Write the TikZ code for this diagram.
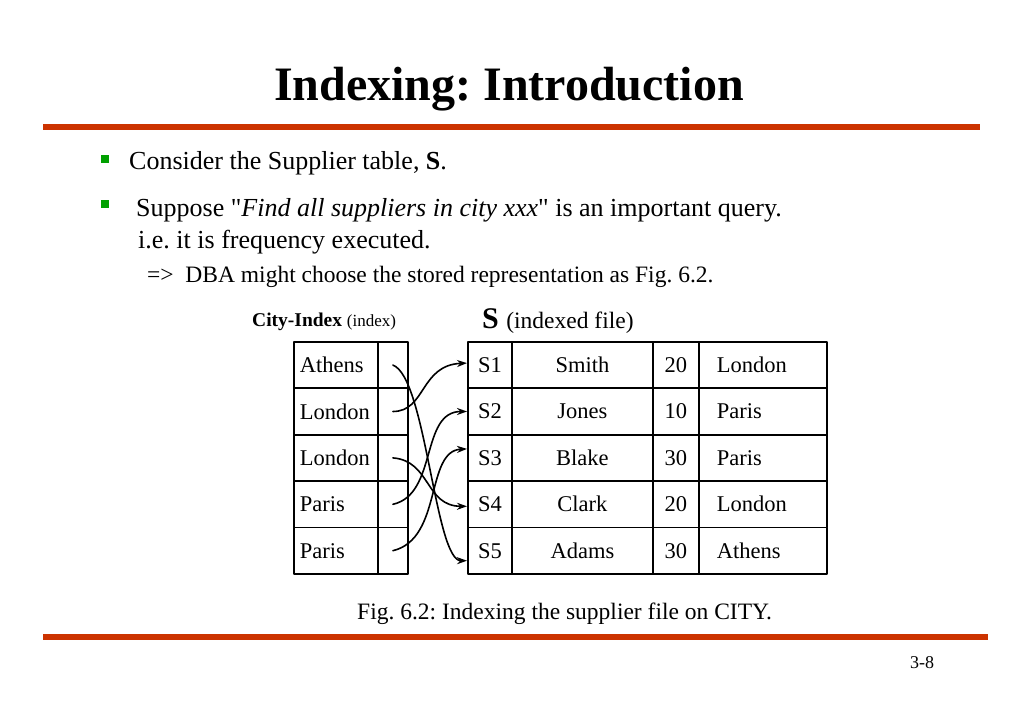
\documentclass[tikz,border=0pt]{standalone}
\usepackage{fontspec}
\setmainfont{Liberation Serif}
\usetikzlibrary{arrows.meta}
\definecolor{barred}{RGB}{204,51,0}
\definecolor{bulgreen}{RGB}{0,160,0}
\frenchspacing
\begin{document}
\begin{tikzpicture}[x=1pt, y=-1pt, line join=round, line cap=round, >={Stealth[length=10pt,width=7pt]},
  cell/.style={draw, line width=1.8pt, minimum height=46.4pt, anchor=north west, inner sep=0pt, font=\fontsize{22.5}{26}\selectfont},
  txt/.style={anchor=base west, inner sep=0pt},
  bul/.style={fill=bulgreen, minimum size=8pt, inner sep=0pt},
  ptr/.style={->, line width=1.6pt}]
 \useasboundingbox (0,0) rectangle (1023,708);
 \def\rtop{341} \def\rowh{46.4}
 \node[anchor=base, inner sep=0pt, font=\fontsize{48}{56}\selectfont\bfseries] (title) at (509,101) {Indexing: Introduction};
 \fill[barred] (43,124) rectangle (980,130);
 \fill[barred] (43,634) rectangle (988,640);
 \node[bul] (b1) at (105,159) {};
 \node[bul] (b2) at (105,204) {};
 \node[txt, font=\fontsize{26}{30}\selectfont] (l1) at (129,170) {Consider the Supplier table, \textbf{S}.};
 \node[txt, font=\fontsize{26}{30}\selectfont] (l2) at (136,217) {Suppose \textquotedbl\textit{Find all suppliers in city xxx}\textquotedbl{} is an important query.};
 \node[txt, font=\fontsize{26}{30}\selectfont] (l3) at (138,249) {i.e. it is frequency executed.};
 \node[txt, font=\fontsize{23.5}{28}\selectfont] (l4) at (147,283) {=>\hspace{0.5em}DBA might choose the stored representation as Fig. 6.2.};
 \node[txt] (cilab) at (252,327) {\fontsize{19.5}{22}\selectfont\bfseries City-Index \fontsize{17}{20}\selectfont\mdseries (index)};
 \node[txt] (slab) at (482,329) {\fontsize{30}{34}\selectfont\bfseries S \fontsize{23.5}{28}\selectfont\mdseries (indexed file)};
 \foreach \c [count=\i] in {Athens,London,London,Paris,Paris} {
   \node[cell, minimum width=84pt, inner xsep=6pt, text width=72pt, align=left] (c\i) at (293,{\rtop+(\i-1)*\rowh}) {\c};
   \node[cell, minimum width=30pt] (p\i) at (377,{\rtop+(\i-1)*\rowh}) {};
 }
 \foreach \id/\sn/\st/\ct [count=\i] in {S1/Smith/20/London,S2/Jones/10/Paris,S3/Blake/30/Paris,S4/Clark/20/London,S5/Adams/30/Athens} {
   \node[cell, minimum width=44pt] (s\i) at (467,{\rtop+(\i-1)*\rowh}) {\id};
   \node[cell, minimum width=141pt] (n\i) at (511,{\rtop+(\i-1)*\rowh}) {\sn};
   \node[cell, minimum width=46pt] (t\i) at (652,{\rtop+(\i-1)*\rowh}) {\st};
   \node[cell, minimum width=128pt, inner xsep=18pt, text width=92pt, align=left] (y\i) at (698,{\rtop+(\i-1)*\rowh}) {\ct};
 }
 \draw[ptr] (p1.center) .. controls +(33,12) and +(-32,0) .. ([yshift=-10pt]s5.west);
 \draw[ptr] (p2.center) .. controls +(33,0) and +(-47,2) .. ([yshift=2pt]s1.west);
 \draw[ptr] (p3.center) .. controls +(38,3) and +(-42,0) .. ([yshift=-2pt]s4.west);
 \draw[ptr] (p4.center) .. controls +(45,-10) and +(-47,0) .. (s2.west);
 \draw[ptr] (p5.center) .. controls +(50,-12) and +(-42,2) .. ([yshift=9pt]s3.west);
 \node[txt, font=\fontsize{23.5}{28}\selectfont] (cap) at (357,619) {Fig. 6.2: Indexing the supplier file on CITY.};
 \node[txt, font=\fontsize{18}{22}\selectfont] (pg) at (910,668) {3-8};
\end{tikzpicture}
\end{document}
